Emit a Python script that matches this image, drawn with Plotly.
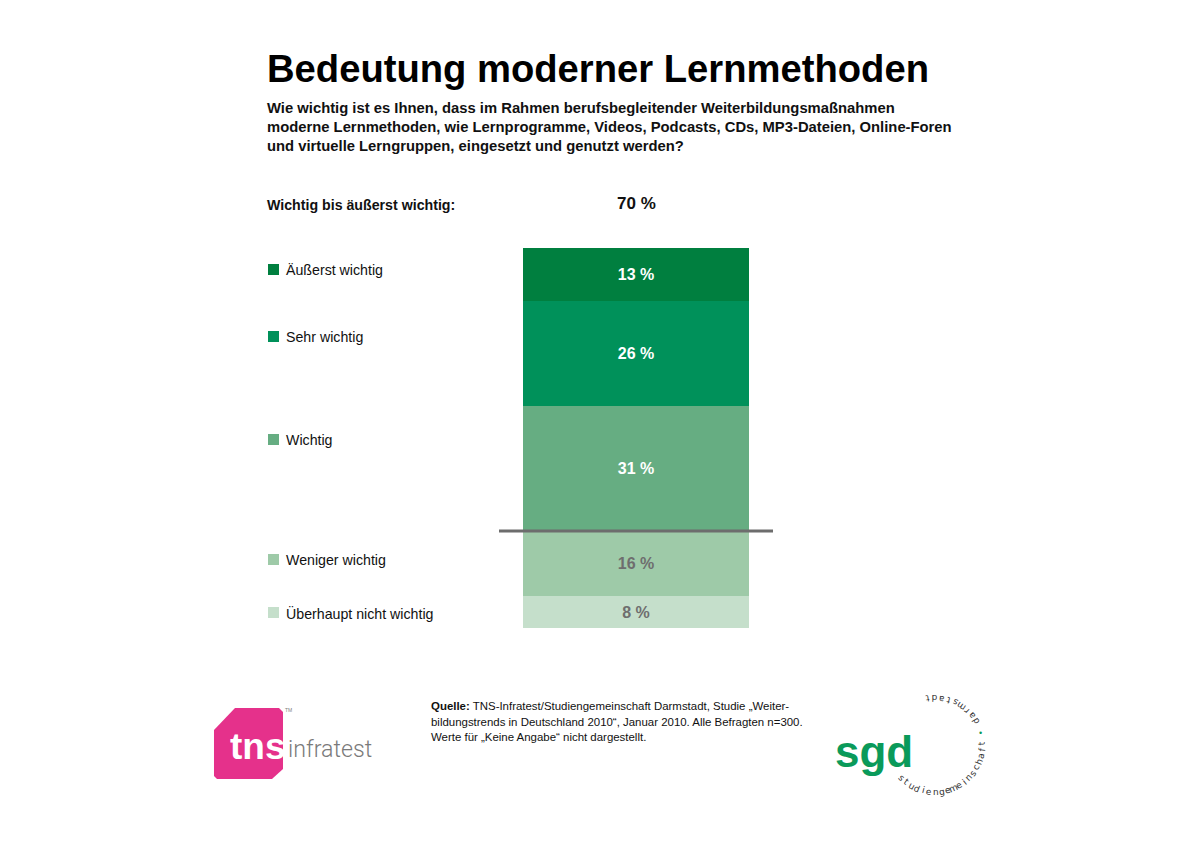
import math
import plotly.graph_objects as go

# ---------------- data ----------------
categories = ["Überhaupt nicht wichtig", "Weniger wichtig", "Wichtig", "Sehr wichtig", "Äußerst wichtig"]
values = [8, 16, 31, 26, 13]
colors = ["#c5dfcb", "#9ecaa8", "#66ad82", "#00915a", "#007f3f"]
label_colors = ["#6e6e6e", "#6e6e6e", "#ffffff", "#ffffff", "#ffffff"]
important = ["Wichtig", "Sehr wichtig", "Äußerst wichtig"]
below_line = ["Überhaupt nicht wichtig", "Weniger wichtig"]

title = "Bedeutung moderner Lernmethoden"
subtitle_lines = [
    "Wie wichtig ist es Ihnen, dass im Rahmen berufsbegleitender Weiterbildungsmaßnahmen",
    "moderne Lernmethoden, wie Lernprogramme, Videos, Podcasts, CDs, MP3-Dateien, Online-Foren",
    "und virtuelle Lerngruppen, eingesetzt und genutzt werden?",
]
summary_label = "Wichtig bis äußerst wichtig:"
source_lines = [
    "<b>Quelle:</b> TNS-Infratest/Studiengemeinschaft Darmstadt, Studie „Weiter-",
    "bildungstrends in Deutschland 2010“, Januar 2010. Alle Befragten n=300.",
    "Werte für „Keine Angabe“ nicht dargestellt.",
]

# ---------------- layout helpers ----------------
W, H = 1200, 849
BASE_PX, TOP_PX = 628, 248
total = sum(values)
scale = (BASE_PX - TOP_PX) / total
y_range = [-(H - BASE_PX) / scale, BASE_PX / scale]
BAR_X, BAR_W = 636, 226
FONT = "Liberation Sans"


def px(x, y):
    return x / W, 1 - y / H


annotations = []
shapes = []


def add_text(x, y, text, size, color="#111111", bold=False, xanchor="left", family=FONT, angle=0, weight=None):
    if xanchor == "left":
        x -= 2
    xp, yp = px(x, y)
    annotations.append(dict(
        x=xp, y=yp, xref="paper", yref="paper", text=text, showarrow=False,
        xanchor=xanchor, yanchor="middle", textangle=angle,
        font=dict(size=size, color=color, family=family,
                  weight=weight if weight is not None else ("bold" if bold else "normal")),
    ))


fig = go.Figure()
for cat, v, c, tc in zip(categories, values, colors, label_colors):
    fig.add_trace(go.Bar(
        x=[BAR_X], y=[v], width=[BAR_W], name=cat,
        marker=dict(color=c, line=dict(width=0)),
        text=[f"{v} %"], textposition="inside", insidetextanchor="middle",
        textangle=0, constraintext="none",
        textfont=dict(color=tc, size=16, family=FONT, weight="bold"),
        hoverinfo="skip",
    ))

# separating line between "wichtig" and "weniger wichtig"
line_y = sum(v for c, v in zip(categories, values) if c in below_line)
shapes.append(dict(type="line", xref="x", yref="y", x0=499, x1=773, y0=line_y, y1=line_y,
                   line=dict(color="#6d6d6d", width=3), layer="above"))

# title / subtitle
add_text(267, 68, title, 38.2, color="#000000", bold=True)
for i, ln in enumerate(subtitle_lines):
    add_text(267, 108 + i * 18.8, ln, 14.8, color="#111111", bold=True)

# summary
add_text(267, 205, summary_label, 14.2, color="#111111", bold=True)
summary_val = sum(v for c, v in zip(categories, values) if c in important)
add_text(BAR_X, 204, f"{summary_val} %", 17, color="#111111", bold=True, xanchor="center")

# legend
legend_y = {"Äußerst wichtig": 270, "Sehr wichtig": 337, "Wichtig": 440,
            "Weniger wichtig": 560, "Überhaupt nicht wichtig": 613}
for cat, c in zip(categories, colors):
    y = legend_y[cat]
    x0, y0 = px(268, y - 6)
    x1, y1 = px(279, y + 5)
    shapes.append(dict(type="rect", xref="paper", yref="paper", x0=x0, x1=x1, y0=y0, y1=y1,
                       fillcolor=c, line=dict(width=0)))
    add_text(286, y, cat, 14.2, color="#111111")

# source
for i, ln in enumerate(source_lines):
    add_text(431, 706 + i * 15.6, ln, 11.45, color="#111111")

# ---------------- tns infratest logo ----------------
pts = [(214, 730), (235, 708), (279, 708), (283, 712), (283, 769), (272, 779), (217, 779), (214, 776)]
path = "M " + " L ".join(f"{px(x, y)[0]:.5f},{px(x, y)[1]:.5f}" for x, y in pts) + " Z"
shapes.append(dict(type="path", xref="paper", yref="paper", path=path,
                   fillcolor="#e5318b", line=dict(width=0)))
add_text(258, 746, "tns", 37, color="#ffffff", bold=True, xanchor="center")
add_text(288, 749, "infratest", 23.2, color="#7a7a7a", family="Roboto", weight=300)
add_text(288, 710, "TM", 5, color="#808080", xanchor="center")

# ---------------- sgd logo ----------------
add_text(874, 751, "sgd", 44, color="#0a9a5a", bold=True, xanchor="center")
cx, cy, r = 935, 745, 47
ring1 = "studiengemeinschaft"
ring2 = "darmstadt"
a0, a1 = 225, 362
for i, ch in enumerate(ring1):
    th = a0 + (a1 - a0) * i / (len(ring1) - 1)
    x = cx + r * math.cos(math.radians(th))
    y = cy - r * math.sin(math.radians(th))
    add_text(x, y, ch, 9, color="#333333", xanchor="center", family="DejaVu Sans", angle=-(th + 90))
b0, b1 = 30, 99
for i, ch in enumerate(ring2):
    th = b0 + (b1 - b0) * i / (len(ring2) - 1)
    x = cx + r * math.cos(math.radians(th))
    y = cy - r * math.sin(math.radians(th))
    add_text(x, y, ch, 9, color="#333333", xanchor="center", family="DejaVu Sans", angle=-(th + 90))
th = 15
add_text(cx + r * math.cos(math.radians(th)), cy - r * math.sin(math.radians(th)), "•", 9,
         color="#0a9a5a", xanchor="center")

fig.update_layout(
    width=W, height=H, margin=dict(l=0, r=0, t=0, b=0),
    paper_bgcolor="#ffffff", plot_bgcolor="#ffffff",
    barmode="stack", bargap=0, showlegend=False,
    xaxis=dict(range=[0, W], visible=False, fixedrange=True),
    yaxis=dict(range=y_range, visible=False, fixedrange=True),
    annotations=annotations, shapes=shapes,
    font=dict(family=FONT),
)

fig.write_html("out.html", config={"displayModeBar": False},
               post_script="document.body.style.margin='0';")
